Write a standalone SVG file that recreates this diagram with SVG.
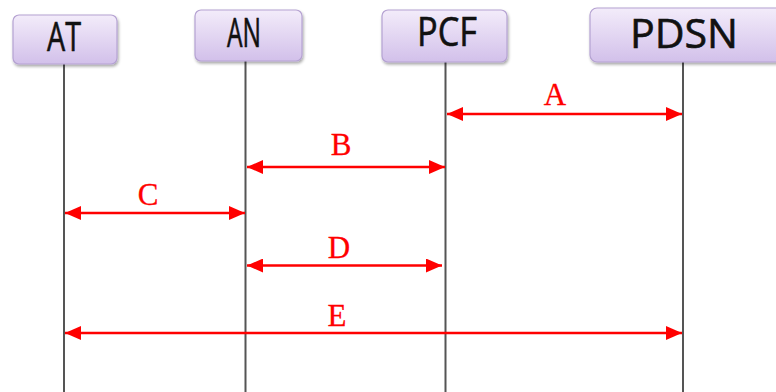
<svg xmlns="http://www.w3.org/2000/svg" width="776" height="392" viewBox="0 0 776 392">
  <style>
    .box { fill: url(#boxFill); stroke: #b5a2d2; stroke-width: 1.2; filter: url(#shadow); }
    .name { font-family: "Open Sans", "Liberation Sans", sans-serif; font-size: 40px; fill: #111; stroke: #111; stroke-width: 0.6; text-anchor: middle; }
    .life { stroke: #555; stroke-width: 2; fill: none; }
    .msg { stroke: #ff0000; stroke-width: 2.6; fill: none; marker-start: url(#head); marker-end: url(#head); }
    .tag { font-family: "Liberation Serif", "DejaVu Serif", serif; font-size: 31px; fill: #ff0000; stroke: #ff0000; stroke-width: 0.3; text-anchor: middle; }
  </style>
  <defs>
    <linearGradient id="boxFill" x1="0" y1="0" x2="0" y2="1">
      <stop offset="0" stop-color="#f3ecfa"/>
      <stop offset="1" stop-color="#d2c0ea"/>
    </linearGradient>
    <filter id="shadow" x="-10%" y="-10%" width="125%" height="135%">
      <feGaussianBlur in="SourceAlpha" stdDeviation="1.5"/>
      <feOffset dx="1" dy="2" result="b"/>
      <feComponentTransfer><feFuncA type="linear" slope="0.35"/></feComponentTransfer>
      <feMerge><feMergeNode/><feMergeNode in="SourceGraphic"/></feMerge>
    </filter>
    <marker id="head" markerUnits="userSpaceOnUse" markerWidth="18" markerHeight="14" refX="16" refY="7" orient="auto-start-reverse">
      <path d="M0,0 L16,7 L0,14 Z" fill="#ff0000"/>
    </marker>
  </defs>

  <rect width="776" height="392" fill="#ffffff"/>

  <!-- lifelines -->
  <g id="lifelines">
    <line class="life" x1="64" y1="64" x2="64" y2="392"/>
    <line class="life" x1="245.5" y1="61" x2="245.5" y2="392"/>
    <line class="life" x1="445.5" y1="62" x2="445.5" y2="392"/>
    <line class="life" x1="683" y1="62" x2="683" y2="392"/>
  </g>

  <!-- participants -->
  <g id="AT">
    <rect class="box" x="13" y="15" width="104" height="49" rx="6"/>
    <text class="name" x="64" y="51" textLength="34" lengthAdjust="spacingAndGlyphs">AT</text>
  </g>
  <g id="AN">
    <rect class="box" x="195" y="10" width="107" height="51" rx="6"/>
    <text class="name" x="244" y="47" textLength="34" lengthAdjust="spacingAndGlyphs">AN</text>
  </g>
  <g id="PCF">
    <rect class="box" x="382" y="10" width="125" height="52" rx="6"/>
    <text class="name" x="447" y="46" textLength="60" lengthAdjust="spacingAndGlyphs">PCF</text>
  </g>
  <g id="PDSN">
    <rect class="box" x="590" y="8" width="200" height="54" rx="7"/>
    <text class="name" x="684" y="48" textLength="108" lengthAdjust="spacingAndGlyphs">PDSN</text>
  </g>

  <!-- messages -->
  <g id="connectors">
    <line class="msg" x1="447" y1="114" x2="682" y2="114"/>
    <line class="msg" x1="247" y1="167" x2="445" y2="167"/>
    <line class="msg" x1="65" y1="213" x2="245" y2="213"/>
    <line class="msg" x1="247" y1="265.5" x2="442" y2="265.5"/>
    <line class="msg" x1="65" y1="333" x2="682" y2="333"/>
  </g>

  <g id="labels">
    <text class="tag" x="555" y="105">A</text>
    <text class="tag" x="341" y="155">B</text>
    <text class="tag" x="148" y="205">C</text>
    <text class="tag" x="339" y="258">D</text>
    <text class="tag" x="337" y="326">E</text>
  </g>
</svg>
